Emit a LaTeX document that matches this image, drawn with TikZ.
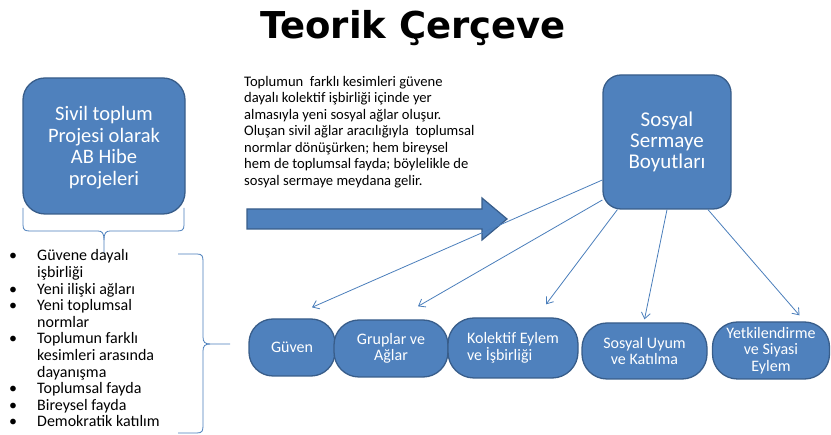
\documentclass[tikz,border=0pt]{standalone}
\usepackage{fontspec}
\setmainfont{Carlito}
\newfontfamily\titlefont{DejaVu Sans}
\usetikzlibrary{arrows.meta}
\definecolor{boxfill}{HTML}{4F81BD}
\definecolor{boxline}{HTML}{385D8A}
\definecolor{conn}{HTML}{4A7EBB}
\tikzset{
  bluebox/.style={draw=boxline, fill=boxfill, line width=1.3pt, text=white, align=center, inner sep=2pt},
  bigtxt/.style={font=\fontsize{20.5}{21.5}\selectfont},
  smalltxt/.style={font=\fontsize{16}{16.5}\selectfont},
  conline/.style={draw=conn, line width=0.8pt},
  arr/.style={conline, -{Straight Barb[length=6pt,width=9pt]}},
}
\begin{document}
\begin{tikzpicture}[x=1pt,y=-1pt]
\useasboundingbox (0,0) rectangle (831,435);
% title
\node[font=\titlefont\bfseries\fontsize{37}{42}\selectfont, anchor=base] (title) at (413,39) {Teorik Çerçeve};
% left box
\node[bluebox, bigtxt, minimum width=162pt, minimum height=136pt, rounded corners=22pt, text depth=-1pt] (L) at (104,146) {Sivil toplum\\Projesi olarak\\AB Hibe\\projeleri};
% right box
\node[bluebox, font=\fontsize{21}{21}\selectfont, minimum width=128pt, minimum height=134pt, rounded corners=18pt] (R) at (667,142) {\raisebox{-3pt}{\parbox{120pt}{\centering Sosyal\\Sermaye\\Boyutları}}};
% paragraph
\node[anchor=north west, align=left, inner sep=0pt, font=\fontsize{14.6}{16.5}\selectfont] (para) at (244,76) {Toplumun\ \ farklı kesimleri güvene\\dayalı kolektif işbirliği içinde yer\\almasıyla yeni sosyal ağlar oluşur.\\Oluşan sivil ağlar aracılığıyla\ \ toplumsal\\normlar dönüşürken; hem bireysel\\hem de toplumsal fayda; böylelikle de\\sosyal sermaye meydana gelir.};
% big arrow
\fill[boxfill, draw=boxline, line width=1.2pt] (247,209) -- (482,209) -- (482,198) -- (507,219) -- (482,240) -- (482,229) -- (247,229) -- cycle;
% bottom nodes
\node[bluebox, smalltxt, minimum width=86pt, minimum height=57pt, rounded corners=24pt] (G) at (292,347.5) {Güven};
\node[bluebox, smalltxt, minimum width=114pt, minimum height=57pt, rounded corners=25pt] (Gr) at (391,348.5) {Gruplar ve\\Ağlar};
\node[bluebox, smalltxt, minimum width=130pt, minimum height=60pt, rounded corners=26pt, align=left] (K) at (513,348) {Kolektif Eylem\\ve İşbirliği};
\node[bluebox, smalltxt, minimum width=125pt, minimum height=56pt, rounded corners=25pt] (S) at (644.5,351) {Sosyal Uyum\\ve Katılma};
\node[bluebox, smalltxt, minimum width=117pt, minimum height=57pt, rounded corners=25pt] (Y) at (771,350.5) {Yetkilendirme\\ve Siyasi\\Eylem};
% connectors
\draw[arr] ([yshift=-38pt]R.west) -- ([xshift=20pt,yshift=11pt]G.north);
\draw[arr] ([yshift=-58pt]R.west) -- ([xshift=27pt,yshift=13pt]Gr.north);
\draw[arr] ([xshift=15pt]R.south west) -- ([xshift=33pt,yshift=13pt]K.north);
\draw[arr] (R.south) -- ([yshift=3pt]S.north);
\draw[arr] ([xshift=41pt]R.south) -- ([xshift=28.5pt,yshift=6pt]Y.north);
% brace under left box
\coordinate (btip) at (104,253);
\draw[conline] (23,208) -- (23,225) .. controls (23,230) and (25,231) .. (30,231) -- (98,231) .. controls (102,231) and (104,233) .. (104,240) -- (btip);
\draw[conline] (184,208) -- (184,225) .. controls (184,230) and (182,231) .. (177,231) -- (110,231) .. controls (106,231) and (104,233) .. (104,240);
% bullet list
\node[anchor=north west, inner sep=0pt, font=\fontsize{16}{16.6}\selectfont] (list) at (9,249) {%
\begin{tabular}{@{}p{20pt}@{\hspace{8pt}}l@{}}
• & Güvene dayalı\\
  & işbirliği\\
• & Yeni ilişki ağları\\
• & Yeni toplumsal\\
  & normlar\\
• & Toplumun farklı\\
  & kesimleri arasında\\
  & dayanışma\\
• & Toplumsal fayda\\
• & Bireysel fayda\\
• & Demokratik katılım
\end{tabular}};
% right brace
\coordinate (rtip) at (230,344);
\draw[conline] (178,254) -- (197,254) .. controls (202,254) and (203,256) .. (203,261) -- (203,337) .. controls (203,342) and (205,344) .. (210,344) -- (rtip);
\draw[conline] (178,433) -- (197,433) .. controls (202,433) and (203,431) .. (203,426) -- (203,351) .. controls (203,346) and (205,344) .. (210,344);
\end{tikzpicture}
\end{document}
